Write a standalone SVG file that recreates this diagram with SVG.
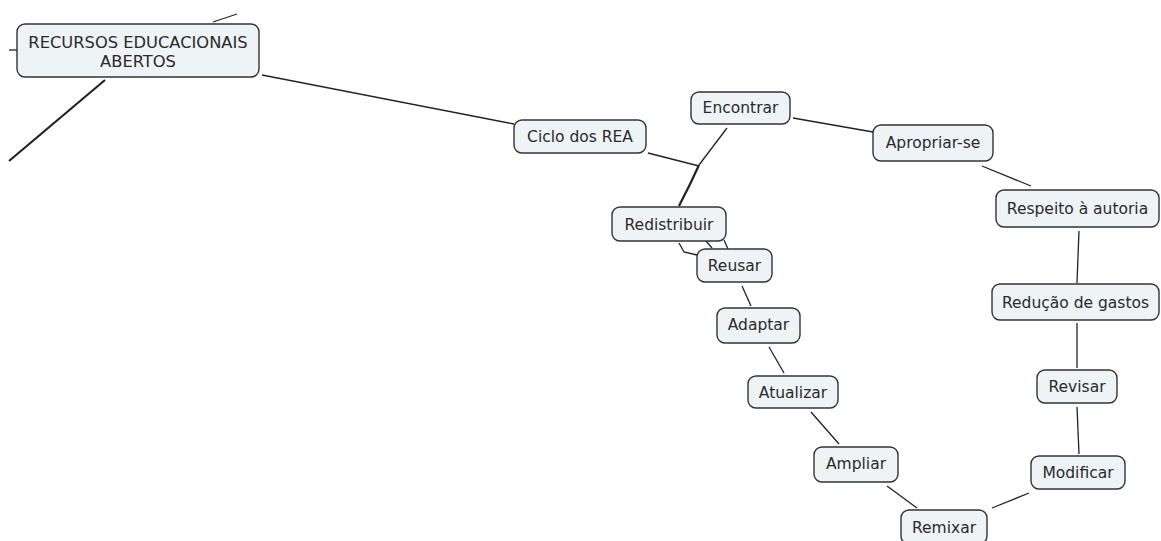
<svg xmlns="http://www.w3.org/2000/svg" width="1161" height="541" viewBox="0 0 1161 541">
<style>
.n rect{fill:#eef3f6;stroke:#333;stroke-width:1.4}
.n text{font-family:"DejaVu Sans",Verdana,sans-serif;font-size:15.5px;fill:#2a2a2a;text-anchor:middle}
#recursos text{font-size:16.3px}
.c line,.c path,.c polyline{stroke:#222;stroke-width:1.3;fill:none}
.c .t{stroke-width:2.2}
</style>
<rect width="1161" height="541" fill="#fff"/>
<g class="c" id="connectors">
<line x1="213" y1="22" x2="237" y2="14"/>
<line x1="9" y1="50" x2="17" y2="50"/>
<line class="t" x1="105" y1="80" x2="9" y2="161"/>
<line x1="262" y1="75" x2="514" y2="124"/>
<line x1="648" y1="153" x2="699" y2="166"/>
<line x1="727" y1="128" x2="699" y2="165"/>
<path class="t" d="M699 165 Q690 185 679 206"/>
<line x1="793" y1="118" x2="873" y2="132"/>
<line x1="982" y1="166" x2="1031" y2="186"/>
<line x1="1079" y1="231" x2="1077" y2="283"/>
<line x1="1077" y1="323" x2="1077" y2="368"/>
<line x1="1077" y1="407" x2="1079" y2="454"/>
<line x1="1029" y1="493" x2="992" y2="508"/>
<line x1="887" y1="486" x2="917" y2="508"/>
<line x1="811" y1="412" x2="839" y2="444"/>
<line x1="769" y1="347" x2="784" y2="373"/>
<line x1="742" y1="286" x2="751" y2="306"/>
<polyline points="679,243 684,252 697,255"/>
<line x1="706" y1="241" x2="712" y2="248"/>
<line x1="724" y1="240" x2="728" y2="249"/>
</g>
<g class="n" id="recursos"><rect x="17" y="24" width="242" height="53" rx="8"/><text x="138" y="48">RECURSOS EDUCACIONAIS</text><text x="138" y="67">ABERTOS</text></g>
<g class="n" id="ciclo"><rect x="514" y="120" width="132" height="33" rx="8"/><text x="580" y="142">Ciclo dos REA</text></g>
<g class="n" id="encontrar"><rect x="691" y="92" width="99" height="32" rx="8"/><text x="740.5" y="113">Encontrar</text></g>
<g class="n" id="apropriar"><rect x="873" y="125" width="120" height="36" rx="8"/><text x="933" y="148">Apropriar-se</text></g>
<g class="n" id="respeito"><rect x="996" y="190" width="163" height="37" rx="8"/><text x="1077.5" y="214">Respeito à autoria</text></g>
<g class="n" id="reducao"><rect x="992" y="284" width="167" height="36" rx="8"/><text x="1075.5" y="308">Redução de gastos</text></g>
<g class="n" id="revisar"><rect x="1037" y="370" width="80" height="33" rx="8"/><text x="1077" y="392">Revisar</text></g>
<g class="n" id="modificar"><rect x="1031" y="456" width="94" height="33" rx="8"/><text x="1078" y="478">Modificar</text></g>
<g class="n" id="remixar"><rect x="901" y="510" width="86" height="34" rx="8"/><text x="944" y="533">Remixar</text></g>
<g class="n" id="ampliar"><rect x="814" y="447" width="84" height="35" rx="8"/><text x="856" y="469">Ampliar</text></g>
<g class="n" id="atualizar"><rect x="748" y="376" width="90" height="32" rx="8"/><text x="793" y="398">Atualizar</text></g>
<g class="n" id="adaptar"><rect x="717" y="308" width="83" height="35" rx="8"/><text x="758.5" y="330">Adaptar</text></g>
<g class="n" id="redistribuir"><rect x="612" y="207" width="114" height="34" rx="8"/><text x="669" y="230">Redistribuir</text></g>
<g class="n" id="reusar"><rect x="697" y="249" width="75" height="33" rx="8"/><text x="734.5" y="271">Reusar</text></g>
</svg>
